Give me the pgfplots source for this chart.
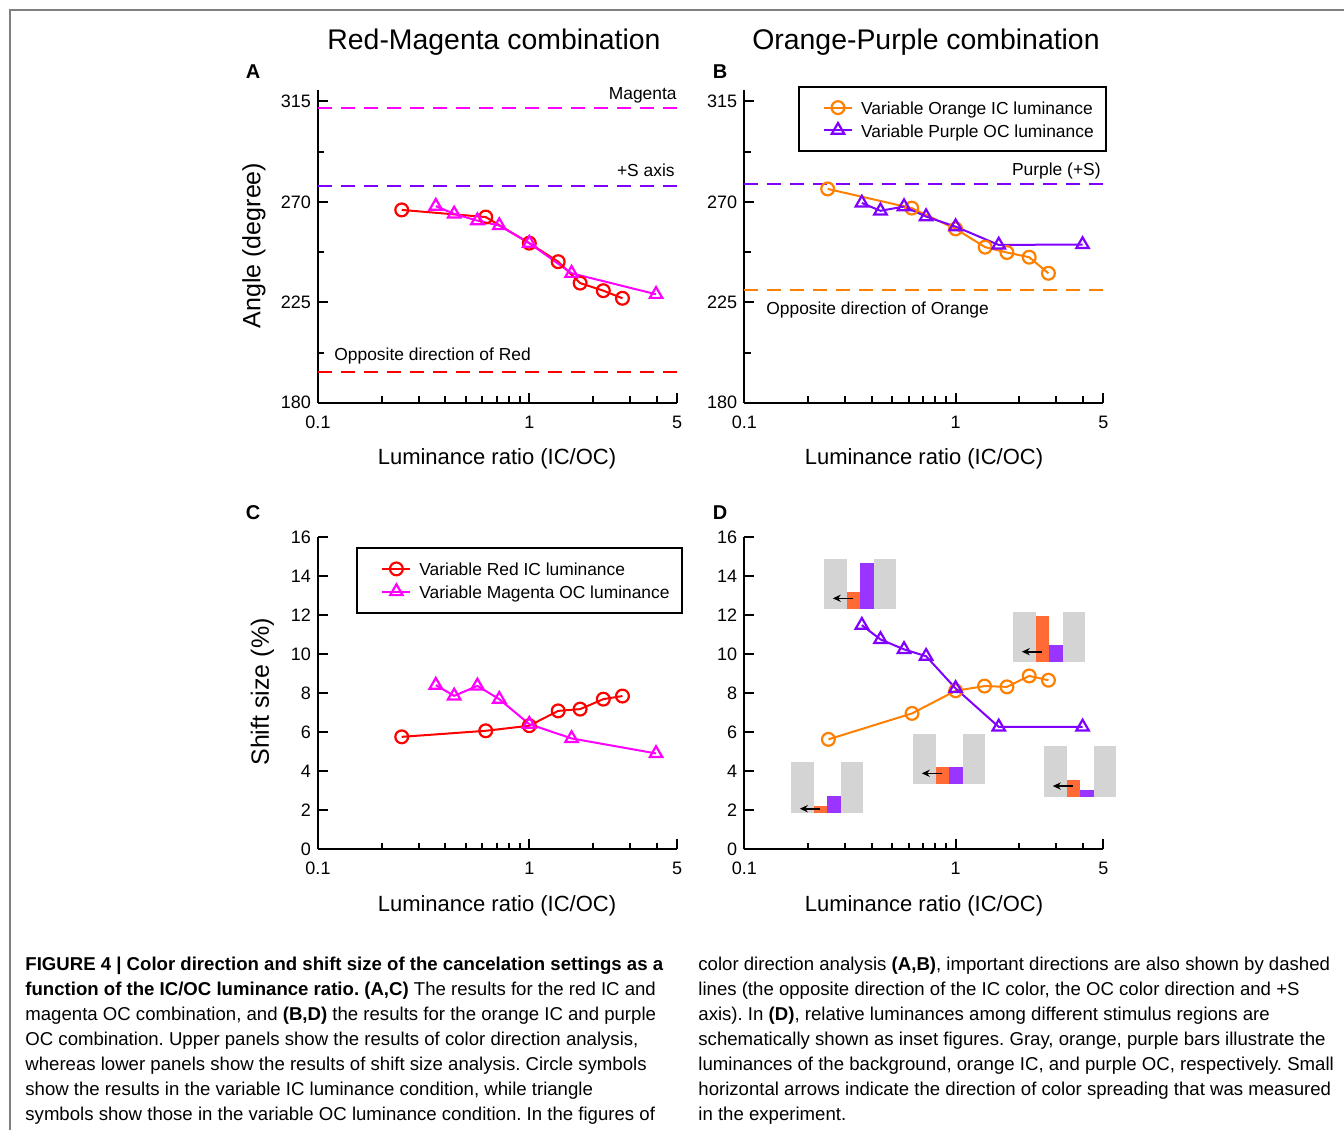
\documentclass[border=0pt]{standalone}
\usepackage{fontspec}
\setmainfont{Liberation Sans}
\usepackage{pgfplots}
\pgfplotsset{compat=1.18}
\usetikzlibrary{arrows.meta}
\frenchspacing

\definecolor{cred}{HTML}{FF0000}
\definecolor{cmag}{HTML}{FF00FF}
\definecolor{corange}{HTML}{FF8000}
\definecolor{cpurple}{HTML}{8000FF}
\definecolor{bgray}{HTML}{D4D4D4}
\definecolor{borange}{HTML}{FF6A35}
\definecolor{bpurple}{HTML}{9A35FF}
\definecolor{framegray}{HTML}{808080}

\pgfplotsset{
  mypanel/.style={
    scale only axis, width=179.5pt, height=156.2pt,
    anchor=south west, clip=false,
    xmin=0.1, xmax=5,
    axis lines=left, axis line style={line width=1pt,-},
    tick align=inside, tick style={line width=1pt,black},
    major tick length=5pt, minor tick length=3.2pt,
    xtick={0.1,1,5}, xticklabels={\mbox{0.1},\mbox{1},\mbox{5}},
    minor xtick={0.2,0.3,0.4,0.5,0.6,0.7,0.8,0.9,2,3,4},
    tick label style={font=\fontsize{9}{10}\selectfont},
    xticklabel style={yshift=-3pt},
    legend cell align=left,
    legend image code/.code={\path (0pt,0pt);
      \draw[mark repeat=2,mark phase=2] plot coordinates {(6pt,0pt) (13pt,0pt) (20pt,0pt)};},
    legend style={draw=black, line width=1pt, font=\fontsize{8.7}{10}\selectfont,
      nodes={inner sep=0pt, text height=8.5pt, text depth=1.5pt},
      inner xsep=6pt, inner ysep=5.5pt, row sep=1.3pt, column sep=4pt},
  },
  myangle/.style={mypanel, ymin=180, ymax=320, ytick={180,225,270,315},
    minor ytick={202.5,247.5,292.5}},
  myshift/.style={mypanel, ymin=0, ymax=16, ytick={0,2,...,16}},
  myic/.style={line width=1pt, mark=o, mark size=3.2pt, mark options={solid,line width=1.1pt}},
  myoc/.style={line width=1pt, mark=triangle, mark size=3.6pt, mark options={solid,line width=1.1pt}},
  myref/.style={line width=1pt, dash pattern=on 7pt off 4.5pt, forget plot},
}

% small schematic of the stimulus luminances (panel D)
\newcommand\inset[5]{% left x, bottom y, orange h, purple h, arrow h
  \fill[bgray] (#1,#2) rectangle ++(22.4,-50.5);
  \fill[borange] (#1+22.4,#2) rectangle ++(13.4,-#3);
  \fill[bpurple] (#1+35.8,#2) rectangle ++(13.6,-#4);
  \fill[bgray] (#1+49.4,#2) rectangle ++(22.4,-50.5);
  \draw[-{Stealth[length=4pt,width=3.6pt]}, line width=0.8pt] (#1+28.5,#2-#5) -- ++(-20,0);
}

\begin{document}
\begin{tikzpicture}
\useasboundingbox (0,0) rectangle (672pt,-565pt);

% A
\begin{semilogxaxis}[myangle, at={(159pt,-201.35pt)}, /pgf/number format/assume math mode=true]
\addplot[myref, cmag] coordinates {(0.1,312) (5,312)};
\addplot[myref, cpurple] coordinates {(0.1,277.2) (5,277.2)};
\addplot[myref, cred] coordinates {(0.1,193.9) (5,193.9)};
\addplot[myic, cred] coordinates {(0.249,266.4) (0.622,263.2) (1.0,251.5) (1.37,243.2) (1.74,233.6) (2.24,230.2) (2.76,226.8)};
\addplot[myoc, cmag] coordinates {(0.361,268.1) (0.441,264.6) (0.568,261.6) (0.721,259.4) (1.0,251.5) (1.585,238.0) (3.98,228.6)};
\end{semilogxaxis}

% B
\begin{semilogxaxis}[myangle, at={(372.15pt,-201.35pt)}, /pgf/number format/assume math mode=true,
  legend style={at={(0.1496,1.015)}, anchor=north west}]
\addplot[myref, cpurple] coordinates {(0.1,278) (5,278)};
\addplot[myref, corange] coordinates {(0.1,230.5) (5,230.5)};
\addplot[myic, corange] coordinates {(0.248,275.8) (0.62,267.2) (1.0,257.9) (1.38,249.7) (1.75,247.3) (2.23,245.2) (2.75,238.0)};
\addlegendentry{Variable Orange IC luminance}
\addplot[myoc, cpurple] coordinates {(0.36,269.5) (0.441,266.0) (0.57,267.9) (0.725,263.4) (1.0,258.9) (1.6,250.7) (3.99,250.9)};
\addlegendentry{Variable Purple OC luminance}
\end{semilogxaxis}

% C
\begin{semilogxaxis}[myshift, at={(159pt,-424.65pt)}, /pgf/number format/assume math mode=true,
  legend style={at={(0.107,0.968)}, anchor=north west}]
\addplot[myic, cred] coordinates {(0.249,5.76) (0.622,6.07) (1.0,6.33) (1.37,7.09) (1.74,7.18) (2.24,7.69) (2.76,7.85)};
\addlegendentry{Variable Red IC luminance}
\addplot[myoc, cmag] coordinates {(0.361,8.41) (0.441,7.86) (0.568,8.37) (0.721,7.69) (1.0,6.41) (1.585,5.68) (3.98,4.91)};
\addlegendentry{Variable Magenta OC luminance}
\end{semilogxaxis}

% D
\begin{semilogxaxis}[myshift, at={(372.15pt,-424.65pt)}, /pgf/number format/assume math mode=true]
\addplot[myic, corange] coordinates {(0.25,5.63) (0.622,6.96) (1.0,8.12) (1.37,8.36) (1.75,8.32) (2.23,8.88) (2.75,8.66)};
\addplot[myoc, cpurple] coordinates {(0.36,11.48) (0.441,10.75) (0.57,10.24) (0.725,9.89) (1.0,8.24) (1.6,6.27) (3.99,6.27)};
\end{semilogxaxis}

\begin{scope}[x=0.5pt,y=-0.5pt]
\draw[framegray, line width=1.2pt] (1344,10) -- (10,10) -- (10,1130);

\node[font=\fontsize{14.2}{16}\selectfont] at (494,42) {Red-Magenta combination};
\node[font=\fontsize{14.2}{16}\selectfont] at (926,42) {Orange-Purple combination};

\foreach \l/\x/\y in {A/253/72, B/720/72, C/253/513, D/720/513}
  \node[font=\bfseries\fontsize{10}{12}\selectfont] at (\x,\y) {\l};

\foreach \x/\y in {497/459, 924/459, 497/906, 924/906}
  \node[font=\fontsize{11}{13}\selectfont, anchor=mid] at (\x,\y) {Luminance ratio (IC/OC)};
\node[rotate=90, font=\fontsize{12.5}{14}\selectfont] at (254,245.5) {Angle (degree)};
\node[rotate=90, font=\fontsize{12.5}{14}\selectfont] at (262.5,692) {Shift size (\%)};

\begin{scope}[every node/.style={font=\fontsize{8.7}{10}\selectfont, inner sep=0pt}]
\node[anchor=mid east] at (677,94) {Magenta};
\node[anchor=mid east] at (675,171) {+S axis};
\node[anchor=mid west] at (334,355) {Opposite direction of Red};
\node[anchor=mid east] at (1101,170) {Purple (+S)};
\node[anchor=mid west] at (766,309) {Opposite direction of Orange};
\end{scope}

\inset{824.3}{609}{17.3}{46.3}{10.7}
\inset{1013.3}{662.3}{46.3}{17}{10.6}
\inset{913.3}{784.3}{17}{17}{11}
\inset{791.3}{812.7}{6.7}{16.7}{4}
\inset{1044.3}{796.7}{16.7}{6.7}{10.7}

\begin{scope}[every node/.style={anchor=base west, inner sep=0pt, font=\fontsize{9.3}{11}\selectfont}]
\node at (25,970) {\textbf{FIGURE 4 | Color direction and shift size of the cancelation settings as a}};
\node at (25,995) {\textbf{function of the IC/OC luminance ratio. (A,C)} The results for the red IC and};
\node at (25,1020) {magenta OC combination, and \textbf{(B,D)} the results for the orange IC and purple};
\node at (25,1045) {OC combination. Upper panels show the results of color direction analysis,};
\node at (25,1070) {whereas lower panels show the results of shift size analysis. Circle symbols};
\node at (25,1095) {show the results in the variable IC luminance condition, while triangle};
\node at (25,1120) {symbols show those in the variable OC luminance condition. In the figures of};
\node at (698,970) {color direction analysis \textbf{(A,B)}, important directions are also shown by dashed};
\node at (698,995) {lines (the opposite direction of the IC color, the OC color direction and +S};
\node at (698,1020) {axis). In \textbf{(D)}, relative luminances among different stimulus regions are};
\node at (698,1045) {schematically shown as inset figures. Gray, orange, purple bars illustrate the};
\node at (698,1070) {luminances of the background, orange IC, and purple OC, respectively. Small};
\node at (698,1095) {horizontal arrows indicate the direction of color spreading that was measured};
\node at (698,1120) {in the experiment.};
\end{scope}
\end{scope}
\end{tikzpicture}
\end{document}
